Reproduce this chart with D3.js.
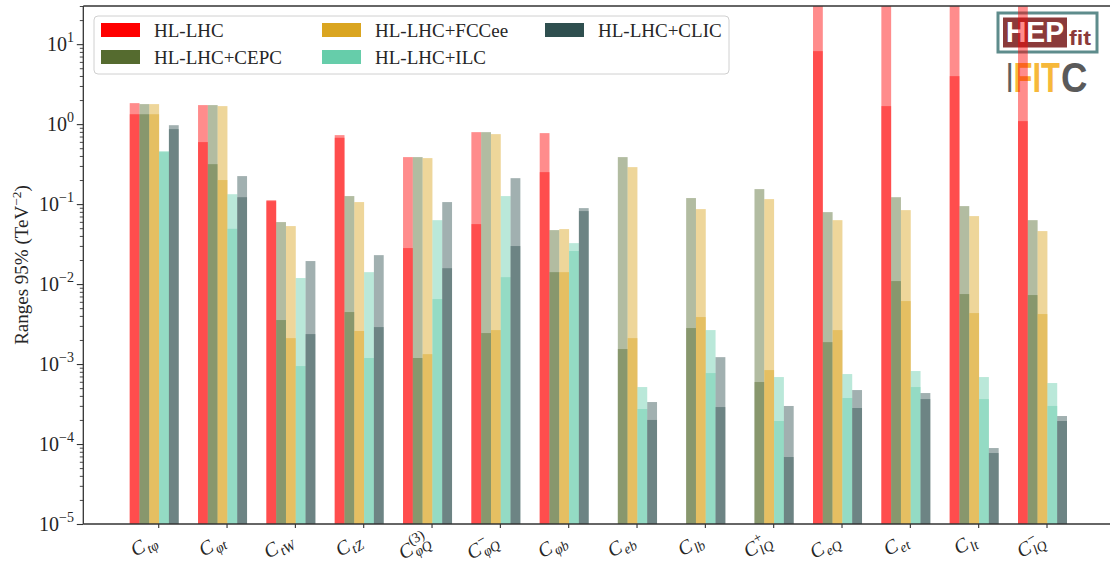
<!DOCTYPE html>
<html><head><meta charset="utf-8">
<script src="https://cdn.jsdelivr.net/npm/d3@7"></script>
<style>
body{margin:0;background:#fff;}
text{font-family:"Liberation Serif","DejaVu Serif",serif;fill:#262626;}
</style></head>
<body><svg id="c" width="1110" height="568"></svg>
<script>
// ---- data ----
const categories = ["tφ","φt","tW","tZ","φQ3","φQm","φb","eb","lb","lQp","eQ","et","lt","lQm"];
const labelSub = ["tφ","φt","tW","tZ","φQ","φQ","φb","eb","lb","lQ","eQ","et","lt","lQ"];
const labelSup = ["","","","","(3)","−","","","","+","","","","−"];
const models = ["HL-LHC","HL-LHC+CEPC","HL-LHC+FCCee","HL-LHC+ILC","HL-LHC+CLIC"];
const modelColors = ["#FF0000","#556B2F","#DAA520","#66CDAA","#2F4F4F"];
const upperHL   = [1.83,1.73,0.112,0.729,0.387,0.794,0.772,null,null,null,50,50,50,50];
const lowerHL   = [1.33,0.596,0.109,0.675,0.0282,0.0562,0.251,null,null,null,8.18,1.68,3.98,1.09];
const upperCEPC = [1.78,1.73,0.0596,0.126,0.387,0.794,0.0473,0.387,0.119,0.154,0.0794,0.122,0.0944,0.063];
const lowerCEPC = [1.33,0.316,0.00355,0.00447,0.00119,0.00244,0.0141,0.00154,0.00282,0.000596,0.00188,0.0109,0.0075,0.00729];
const upperFCC  = [1.78,1.68,0.0531,0.106,0.376,0.75,0.0487,0.29,0.0866,0.1155,0.063,0.0841,0.0708,0.046];
const lowerFCC  = [1.33,0.2,0.00211,0.00259,0.00133,0.00266,0.0141,0.00211,0.00387,0.000841,0.00266,0.00613,0.00434,0.00422];
const upperILC  = [0.46,0.133,0.0119,0.0141,0.063,0.126,0.0325,0.000516,0.00266,0.000688,0.00075,0.000818,0.000688,0.000579];
const lowerILC  = [0.447,0.0491,0.000944,0.00119,0.0065,0.0122,0.0259,0.000274,0.000772,0.000194,0.000376,0.000516,0.000365,0.000299];
const upperCLIC = [0.97,0.224,0.0194,0.023,0.106,0.211,0.0891,0.000335,0.00122,0.000299,0.000473,0.000434,0.0000891,0.000224];
const lowerCLIC = [0.866,0.122,0.00237,0.0029,0.0158,0.0299,0.0818,0.0002,0.00029,0.0000688,0.000282,0.000365,0.0000772,0.000194];
const yTicks = [1e-5,1e-4,1e-3,1e-2,1e-1,1,10];
const yTickExp = ["−5","−4","−3","−2","−1","0","1"];

const uppers=[upperHL,upperCEPC,upperFCC,upperILC,upperCLIC];
const lowers=[lowerHL,lowerCEPC,lowerFCC,lowerILC,lowerCLIC];

// ---- layout ----
const L=83.3, R=1110, T=6, B=524;
const svg=d3.select("#c");
const x=d3.scaleBand().domain(categories).range([122.55,122.55+14*68.33]).padding(0);
const xs=d3.scaleBand().domain(models).range([-27,22]).padding(0);
const y=d3.scaleLog().domain([1e-5,30]).range([B,T]);
const AX="#333";

// logo (drawn beneath the bars)
const SANS="Liberation Sans, Arial, sans-serif";
const logo=svg.append("g");
logo.append("rect").attr("x",998).attr("y",13).attr("width",99).attr("height",39).attr("fill","#fff").attr("stroke","#5E8C8C").attr("stroke-width",3);
logo.append("rect").attr("x",1003).attr("y",17.5).attr("width",64).attr("height",30).attr("fill","#8B3A3A");
logo.append("text").attr("x",1006).attr("y",42).attr("textLength",58).attr("lengthAdjust","spacingAndGlyphs")
  .style("font-family",SANS).style("font-weight","bold").style("font-size","30px").style("fill","#fff").text("HEP");
logo.append("text").attr("x",1069).attr("y",45).attr("textLength",22).attr("lengthAdjust","spacingAndGlyphs")
  .style("font-family",SANS).style("font-weight","bold").style("font-size","21px").style("fill","#8B3A3A").text("fit");
[["I",1007,0.45,"#5f5f5f"],["FIT",1013.5,0.72,"#F6B83A"],["C",1061,0.85,"#5a5a5a"]].forEach(([s,px,sx,col])=>{
  logo.append("text").attr("transform",`translate(${px},92) scale(${sx},1)`)
    .style("font-family",SANS).style("font-weight","bold").style("font-size","43px").style("fill",col).text(s);
});

// clip
svg.append("clipPath").attr("id","clip").append("rect").attr("x",L).attr("y",T).attr("width",R-L).attr("height",B-T);
const plot=svg.append("g").attr("clip-path","url(#clip)");

models.forEach((m,mi)=>{
  const g=plot.append("g");
  [uppers[mi],lowers[mi]].forEach(arr=>{
    g.selectAll(null).data(categories.map((c,i)=>({c,v:arr[i]})).filter(d=>d.v!=null))
     .enter().append("rect")
     .attr("x",d=>x(d.c)+x.bandwidth()/2+xs(m))
     .attr("width",xs.bandwidth())
     .attr("y",d=>y(d.v))
     .attr("height",d=>B-y(d.v))
     .attr("fill",modelColors[mi]).attr("fill-opacity",0.45);
  });
});

// spines
svg.append("line").attr("x1",L).attr("x2",R).attr("y1",T).attr("y2",T).attr("stroke",AX).attr("stroke-width",1.3);
svg.append("line").attr("x1",L).attr("x2",R).attr("y1",B).attr("y2",B).attr("stroke",AX).attr("stroke-width",1.3);
svg.append("line").attr("x1",L).attr("x2",L).attr("y1",T).attr("y2",B).attr("stroke",AX).attr("stroke-width",1.3);

// y axis ticks via d3 axis
const minor=[];
for(let e=-5;e<=1;e++) for(let k=2;k<=9;k++){const v=k*Math.pow(10,e); if(v<=30) minor.push(v);}
const yAxMinor=d3.axisLeft(y).tickValues(minor).tickSize(3.5).tickFormat("");
const gm=svg.append("g").attr("transform",`translate(${L},0)`).call(yAxMinor);
gm.select(".domain").remove(); gm.selectAll("line").attr("stroke",AX).attr("stroke-width",0.9);
const yAx=d3.axisLeft(y).tickValues(yTicks).tickSize(6.5).tickFormat("");
const gy=svg.append("g").attr("transform",`translate(${L},0)`).call(yAx);
gy.select(".domain").remove(); gy.selectAll("line").attr("stroke",AX).attr("stroke-width",1.1);
yTicks.forEach((v,i)=>{
  const t=svg.append("text").attr("x",74).attr("y",y(v)+7).attr("text-anchor","end").style("font-size","20px");
  t.append("tspan").text("10");
  t.append("tspan").attr("dy",-9).style("font-size","14px").text(yTickExp[i]);
});

// x axis ticks
const xAx=d3.axisBottom(x).tickSize(4).tickFormat("").offset(0);
const gx=svg.append("g").attr("transform",`translate(0,${B})`).call(xAx);
gx.select(".domain").remove(); gx.selectAll("line").attr("stroke",AX).attr("stroke-width",1.1);
gx.selectAll(".tick").attr("transform",d=>`translate(${x(d)+x.bandwidth()/2+2},0)`);

// x labels: one text per label, rotated by 30°, end-anchored at the tick
const meas=svg.append("text").style("font-size","14px").attr("opacity",0);
categories.forEach((c,i)=>{
  const cx=x(c)+x.bandwidth()/2+2;
  const t=svg.append("text").attr("text-anchor","end")
    .attr("transform",`translate(${cx-1},544) rotate(-30)`);
  t.append("tspan").style("font-size","20px").style("font-style","italic").text("C");
  if(labelSup[i]){
    meas.text(labelSup[i]);
    const ws=meas.node().getComputedTextLength();
    t.append("tspan").attr("dx",1).attr("dy",-8.5).style("font-size","14px").text(labelSup[i]);
    t.append("tspan").attr("dx",-ws).attr("dy",13).style("font-size","14px").style("font-style","italic").text(labelSub[i]);
  } else {
    t.append("tspan").attr("dx",1).attr("dy",4.5).style("font-size","14px").style("font-style","italic").text(labelSub[i]);
  }
});
meas.remove();

// y label
const yl=svg.append("text").attr("transform",`translate(28,265) rotate(-90)`).attr("text-anchor","middle").style("font-size","19px");
yl.append("tspan").text("Ranges 95% (TeV");
yl.append("tspan").attr("dy",-7).style("font-size","13.5px").text("−2");
yl.append("tspan").attr("dy",7).text(")");

// legend
const lg=svg.append("g");
lg.append("rect").attr("x",94).attr("y",16).attr("width",635).attr("height",58).attr("rx",4)
  .attr("fill","#fff").attr("fill-opacity",0.8).attr("stroke","#d0d0d0").attr("stroke-width",1);
const legPos=[[101,23],[101,50],[322,23],[322,50],[545,23]];
models.forEach((m,i)=>{
  const [px,py]=legPos[i];
  lg.append("rect").attr("x",px).attr("y",py).attr("width",39).attr("height",14).attr("fill",modelColors[i]);
  lg.append("text").attr("x",px+53).attr("y",py+14).style("font-size","19px").text(m);
});
</script></body></html>
